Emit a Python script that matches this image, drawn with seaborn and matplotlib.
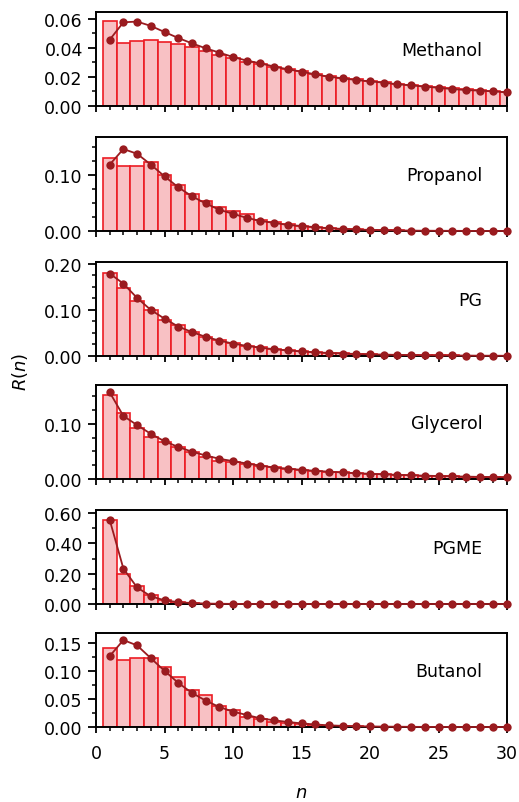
import numpy as np
import pandas as pd
import matplotlib
matplotlib.use('Agg')
import matplotlib.pyplot as plt
from matplotlib.ticker import MultipleLocator, FormatStrFormatter
import seaborn as sns

# cluster size n
n = list(range(1, 31))

# histogram values (bars) and model points, one pair per solvent
methanol_bars = [0.0584, 0.0434, 0.0450, 0.0455, 0.0439, 0.0430, 0.0409, 0.0381, 0.0354, 0.0329,
                 0.0306, 0.0290, 0.0269, 0.0255, 0.0244, 0.0224, 0.0208, 0.0196, 0.0184, 0.0175,
                 0.0166, 0.0155, 0.0148, 0.0138, 0.0131, 0.0122, 0.0115, 0.0110, 0.0105, 0.0098]
methanol_pts = [0.0457, 0.0577, 0.0582, 0.0552, 0.0510, 0.0469, 0.0432, 0.0398, 0.0368, 0.0338,
                0.0313, 0.0294, 0.0272, 0.0253, 0.0237, 0.0218, 0.0202, 0.0191, 0.0179, 0.0170,
                0.0161, 0.0150, 0.0143, 0.0133, 0.0126, 0.0117, 0.0110, 0.0106, 0.0101, 0.0094]

propanol_bars = [0.131, 0.117, 0.116, 0.1235, 0.0995, 0.0814, 0.0663, 0.0537, 0.0422, 0.035,
                 0.0295, 0.0199, 0.0163, 0.012, 0.0092, 0.0072, 0.0054, 0.004, 0.0029, 0.0021,
                 0.0015, 0.0011, 0.0008, 0.0006, 0.0004, 0.0003, 0.0002, 0.0002, 0.0001, 0.0001]
propanol_pts = [0.1187, 0.1465, 0.138, 0.1187, 0.0977, 0.0783, 0.062, 0.0494, 0.038, 0.0307,
                0.0235, 0.018, 0.0145, 0.0108, 0.009, 0.0068, 0.005, 0.0037, 0.0027, 0.0019,
                0.0014, 0.001, 0.0007, 0.0005, 0.0004, 0.0003, 0.0002, 0.0001, 0.0001, 0.0001]

pg_bars = [0.181, 0.147, 0.12, 0.099, 0.078, 0.067, 0.053, 0.042, 0.034, 0.0275,
           0.0225, 0.0185, 0.015, 0.0122, 0.01, 0.0082, 0.0067, 0.0055, 0.0045, 0.0037,
           0.003, 0.0025, 0.002, 0.0017, 0.0014, 0.0011, 0.0009, 0.0008, 0.0006, 0.0005]
pg_pts = [0.179, 0.157, 0.126, 0.1, 0.081, 0.064, 0.052, 0.0416, 0.0335, 0.027,
          0.022, 0.018, 0.0147, 0.012, 0.0098, 0.008, 0.0066, 0.0054, 0.0044, 0.0036,
          0.003, 0.0024, 0.002, 0.0016, 0.0013, 0.0011, 0.0009, 0.0007, 0.0006, 0.0005]

glycerol_bars = [0.152, 0.119, 0.092, 0.076, 0.067, 0.057, 0.049, 0.0397, 0.033, 0.0305,
                 0.027, 0.024, 0.021, 0.0185, 0.0165, 0.0148, 0.0132, 0.0118, 0.0105, 0.0094,
                 0.0084, 0.0075, 0.0067, 0.006, 0.0054, 0.0048, 0.0043, 0.0038, 0.0034, 0.003]
glycerol_pts = [0.1567, 0.114, 0.0975, 0.0817, 0.0682, 0.058, 0.0494, 0.0426, 0.0366, 0.0323,
                0.028, 0.0243, 0.0207, 0.0188, 0.0165, 0.0148, 0.0132, 0.0118, 0.0105, 0.0094,
                0.0084, 0.0075, 0.0067, 0.006, 0.0054, 0.0048, 0.0043, 0.0038, 0.0034, 0.003]

pgme_bars = [0.552, 0.2, 0.12, 0.058, 0.028, 0.012, 0.006, 0.003, 0.0015, 0.0008,
             0.0004, 0.0002, 0.0001, 0.0001, 0, 0, 0, 0, 0, 0,
             0, 0, 0, 0, 0, 0, 0, 0, 0, 0]
pgme_pts = [0.555, 0.233, 0.109, 0.051, 0.0245, 0.012, 0.006, 0.003, 0.0015, 0.0008,
            0.0004, 0.0002, 0.0001, 0.0001, 0, 0, 0, 0, 0, 0,
            0, 0, 0, 0, 0, 0, 0, 0, 0, 0]

butanol_bars = [0.141, 0.1195, 0.123, 0.1225, 0.1075, 0.09, 0.0657, 0.0573, 0.038, 0.0305,
                0.0185, 0.0143, 0.0095, 0.007, 0.0048, 0.0033, 0.0022, 0.0015, 0.001, 0.0007,
                0.0005, 0.0003, 0.0002, 0.0001, 0.0001, 0, 0, 0, 0, 0]
butanol_pts = [0.1267, 0.1554, 0.1458, 0.123, 0.1004, 0.0789, 0.061, 0.0472, 0.0358, 0.0275,
               0.0215, 0.0155, 0.012, 0.009, 0.0065, 0.0045, 0.003, 0.002, 0.0014, 0.001,
               0.0007, 0.0005, 0.0003, 0.0002, 0.0001, 0.0001, 0, 0, 0, 0]

panels = [
    # name, bars, points, ymax, major, minor
    ('Methanol', methanol_bars, methanol_pts, 0.0648, 0.02, 0.01),
    ('Propanol', propanol_bars, propanol_pts, 0.168, 0.10, 0.025),
    ('PG', pg_bars, pg_pts, 0.204, 0.10, 0.025),
    ('Glycerol', glycerol_bars, glycerol_pts, 0.170, 0.10, 0.025),
    ('PGME', pgme_bars, pgme_pts, 0.62, 0.20, 0.10),
    ('Butanol', butanol_bars, butanol_pts, 0.168, 0.05, 0.025),
]

sns.set_style('ticks')
plt.rcParams['font.family'] = ['DejaVu Sans']
plt.rcParams['mathtext.fontset'] = 'dejavusans'
plt.rcParams['text.color'] = 'black'
plt.rcParams['axes.labelcolor'] = 'black'
plt.rcParams['xtick.color'] = 'black'
plt.rcParams['ytick.color'] = 'black'

bar_face = '#f8c1c4'
bar_edge = '#ec1c24'
pt_color = '#9a1b1f'

W, H = 519, 803
fig = plt.figure(figsize=(W / 100, H / 100), dpi=100)

tops = [13, 138, 263, 386, 511, 634]
left, right = 96, 507
ph = 94

for i, (name, bars, pts, ymax, major, minor) in enumerate(panels):
    ax = fig.add_axes([left / W, 1 - (tops[i] + ph) / H, (right - left) / W, ph / H])
    df = pd.DataFrame({'n': n, 'bar': bars, 'pt': pts})
    sns.histplot(data=df, x='n', weights='bar', binwidth=1, binrange=(0.5, 30.5),
                 color=bar_face, edgecolor=bar_edge, linewidth=1.2, alpha=1,
                 ax=ax)
    sns.lineplot(data=df, x='n', y='pt', color=pt_color, marker='o', markersize=6,
                 markeredgewidth=0, linewidth=1.3, ax=ax, zorder=5, clip_on=False)
    ax.set_xlim(0, 30)
    ax.set_ylim(0, ymax)
    ax.xaxis.set_major_locator(MultipleLocator(5))
    ax.xaxis.set_minor_locator(MultipleLocator(1))
    ax.yaxis.set_major_locator(MultipleLocator(major))
    ax.yaxis.set_minor_locator(MultipleLocator(minor))
    ax.yaxis.set_major_formatter(FormatStrFormatter('%.2f'))
    ax.tick_params(which='major', direction='out', length=5.5, width=1.3, labelsize=12.5,
                   pad=4, colors='black')
    ax.tick_params(which='minor', direction='out', length=3, width=1.1, colors='black')
    ax.tick_params(axis='x', which='major', length=4.5, pad=8)
    for s in ax.spines.values():
        s.set_linewidth(1.4)
        s.set_color('black')
        s.set_visible(True)
    ax.set_xlabel('')
    ax.set_ylabel('')
    if i < len(panels) - 1:
        ax.tick_params(axis='x', labelbottom=False)
    ax.text(0.94, 0.6, name, transform=ax.transAxes, ha='right', va='center',
            fontsize=12.5, color='black')

fig.text(20 / W, 1 - 372 / H, '$R(n)$', rotation=90, ha='center', va='center', fontsize=13)
fig.text((left + right) / 2 / W, 1 - 793 / H, '$n$', ha='center', va='center', fontsize=13)

fig.savefig('out.png', dpi=100)
